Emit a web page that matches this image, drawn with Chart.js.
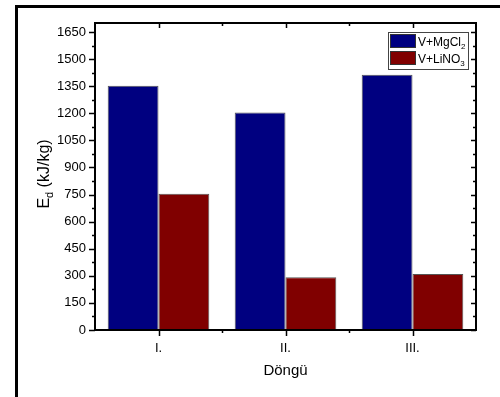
<!DOCTYPE html>
<html>
<head>
<meta charset="utf-8">
<script src="https://cdn.jsdelivr.net/npm/chart.js@4.4.1/dist/chart.umd.min.js"></script>
<style>
  html, body { margin: 0; padding: 0; background: #ffffff; }
  #wrap { width: 500px; height: 397px; }
</style>
</head>
<body>
<div id="wrap"><canvas id="c" width="500" height="397"></canvas></div>
<script>
// Cycle labels (Döngü) and discharge energy E_d (kJ/kg) for each composite
const categories = ['I.', 'II.', 'III.'];
const mgcl2Values = [1352, 1205, 1413];
const lino3Values = [755, 292, 310];
const yTickValues = [0, 150, 300, 450, 600, 750, 900, 1050, 1200, 1350, 1500, 1650];
const yMin = 0;
const yMax = 1700;

const FONT = '"Liberation Sans", Arial, sans-serif';
const NAVY = '#000080';
const MAROON = '#800000';

// Text with a subscript part: [[text, isSub], ...]
function drawRichText(ctx, parts, x, y, size) {
  let cx = x;
  parts.forEach(([t, sub]) => {
    const s = sub ? Math.round(size * 0.68) : size;
    ctx.font = s + 'px ' + FONT;
    ctx.fillText(t, cx, sub ? y + size * 0.25 : y);
    cx += ctx.measureText(t).width;
  });
  return cx - x;
}
function richWidth(ctx, parts, size) {
  let w = 0;
  parts.forEach(([t, sub]) => {
    const s = sub ? Math.round(size * 0.68) : size;
    ctx.font = s + 'px ' + FONT;
    w += ctx.measureText(t).width;
  });
  return w;
}

const frameAndTicks = {
  id: 'frameAndTicks',
  beforeDraw(chart) {
    const ctx = chart.ctx;
    ctx.save();
    ctx.fillStyle = '#ffffff';
    ctx.fillRect(0, 0, chart.width, chart.height);
    // outer figure border (left and top)
    ctx.strokeStyle = '#000';
    ctx.lineWidth = 3;
    ctx.beginPath();
    ctx.moveTo(16.5, chart.height);
    ctx.lineTo(16.5, 6.5);
    ctx.lineTo(chart.width, 6.5);
    ctx.stroke();
    ctx.restore();
  },
  afterDatasetsDraw(chart) {
    const ctx = chart.ctx;
    const a = chart.chartArea;
    const x = chart.scales.x, y = chart.scales.y;
    ctx.save();
    ctx.strokeStyle = '#000';
    ctx.lineWidth = 1.5;
    ctx.beginPath();
    // y major ticks (left outward, right inward) and minor ticks halfway between
    const step = yTickValues[1] - yTickValues[0];
    yTickValues.forEach(v => {
      const py = Math.round(y.getPixelForValue(v)) + 0.5;
      ctx.moveTo(a.left, py); ctx.lineTo(a.left - 6, py);
      ctx.moveTo(a.right, py); ctx.lineTo(a.right - 5, py);
      const mv = v + step / 2;
      if (mv < yMax) {
        const my = Math.round(y.getPixelForValue(mv)) + 0.5;
        ctx.moveTo(a.left, my); ctx.lineTo(a.left - 3, my);
        ctx.moveTo(a.right, my); ctx.lineTo(a.right - 3, my);
      }
    });
    // x major ticks at category centres, minor at boundaries
    for (let i = 0; i < categories.length; i++) {
      const px = Math.round(x.getPixelForValue(i)) + 0.5;
      ctx.moveTo(px, a.bottom); ctx.lineTo(px, a.bottom + 6);
      ctx.moveTo(px, a.top); ctx.lineTo(px, a.top + 5);
      if (i < categories.length - 1) {
        const mx = Math.round((x.getPixelForValue(i) + x.getPixelForValue(i + 1)) / 2) + 0.5;
        ctx.moveTo(mx, a.bottom); ctx.lineTo(mx, a.bottom + 3);
        ctx.moveTo(mx, a.top); ctx.lineTo(mx, a.top + 3);
      }
    }
    ctx.stroke();
    // axis box
    ctx.lineWidth = 2;
    ctx.strokeRect(a.left, a.top, a.right - a.left, a.bottom - a.top);

    // legend
    const lx = a.right - 88, ly = a.top + 9, lw = 80, lh = 37;
    ctx.fillStyle = '#fff';
    ctx.fillRect(lx, ly, lw, lh);
    ctx.lineWidth = 1;
    ctx.strokeStyle = '#444';
    ctx.strokeRect(lx + 0.5, ly + 0.5, lw, lh);
    const items = [
      { color: NAVY, parts: [['V+MgCl', false], ['2', true]] },
      { color: MAROON, parts: [['V+LiNO', false], ['3', true]] }
    ];
    items.forEach((it, k) => {
      const sy = ly + 2 + k * 17;
      ctx.fillStyle = it.color;
      ctx.fillRect(lx + 2, sy, 26, 14);
      ctx.strokeStyle = '#333';
      ctx.strokeRect(lx + 2.5, sy + 0.5, 25, 13);
      ctx.fillStyle = '#000';
      ctx.textBaseline = 'alphabetic';
      ctx.textAlign = 'left';
      drawRichText(ctx, it.parts, lx + 30, sy + 11.5, 12);
    });

    // axis titles
    ctx.fillStyle = '#000';
    ctx.textAlign = 'left';
    ctx.textBaseline = 'alphabetic';
    ctx.font = '15px ' + FONT;
    const xt = 'Döngü';
    const xw = ctx.measureText(xt).width;
    ctx.fillText(xt, (a.left + a.right) / 2 - xw / 2, 375);

    const yParts = [['E', false], ['d', true], [' (kJ/kg)', false]];
    const yw = richWidth(ctx, yParts, 16);
    ctx.save();
    ctx.translate(49, 174);
    ctx.rotate(-Math.PI / 2);
    drawRichText(ctx, yParts, -yw / 2, 0, 16);
    ctx.restore();
    ctx.restore();
  }
};

new Chart(document.getElementById('c'), {
  type: 'bar',
  data: {
    labels: categories,
    datasets: [
      { label: 'V+MgCl2', data: mgcl2Values, backgroundColor: NAVY, borderColor: '#555', borderWidth: 1 },
      { label: 'V+LiNO3', data: lino3Values, backgroundColor: MAROON, borderColor: '#555', borderWidth: 1 }
    ]
  },
  options: {
    responsive: false,
    animation: false,
    devicePixelRatio: 1,
    layout: { padding: { left: 0, top: 23, right: 24, bottom: 0 } },
    plugins: { legend: { display: false }, tooltip: { enabled: false } },
    datasets: { bar: { categoryPercentage: 0.8, barPercentage: 1.0 } },
    scales: {
      x: {
        grid: { display: false, drawTicks: false },
        border: { display: false },
        ticks: { color: '#000', font: { family: FONT, size: 13 }, padding: 11 },
        afterFit(scale) { scale.height = 67; }
      },
      y: {
        min: yMin,
        max: yMax,
        grid: { display: false, drawTicks: false },
        border: { display: false },
        ticks: {
          color: '#000',
          font: { family: FONT, size: 13 },
          padding: 9,
          callback: v => String(v)
        },
        afterBuildTicks(scale) { scale.ticks = yTickValues.map(v => ({ value: v })); },
        afterFit(scale) { scale.width = 95; }
      }
    }
  },
  plugins: [frameAndTicks]
});
</script>
</body>
</html>
